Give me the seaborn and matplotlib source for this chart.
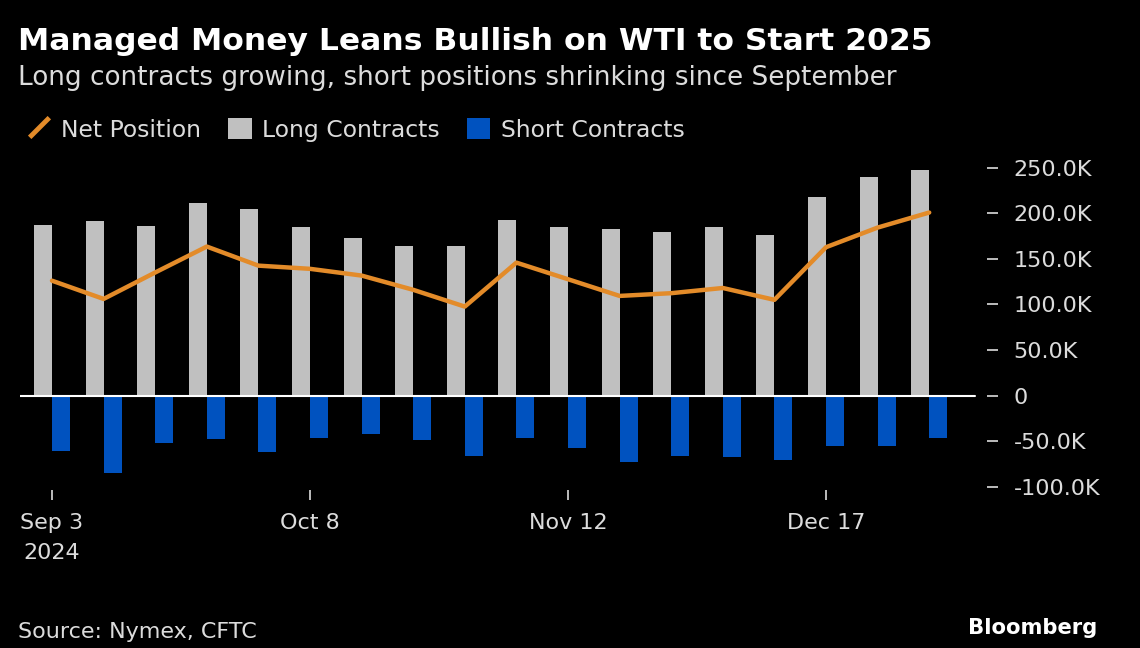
import numpy as np
import pandas as pd
import matplotlib
matplotlib.use("Agg")
import matplotlib.pyplot as plt
import seaborn as sns
from matplotlib.lines import Line2D
from matplotlib.patches import Patch

# weekly CFTC data, managed money WTI positions (thousands of contracts)
weeks = ["2024-09-03", "2024-09-10", "2024-09-17", "2024-09-24", "2024-10-01",
         "2024-10-08", "2024-10-15", "2024-10-22", "2024-10-29", "2024-11-05",
         "2024-11-12", "2024-11-19", "2024-11-26", "2024-12-03", "2024-12-10",
         "2024-12-17", "2024-12-24", "2024-12-31"]
long_k = [186.8, 191.2, 186.4, 211.0, 204.4, 185.0, 172.6, 163.8, 164.5,
          192.3, 185.3, 182.8, 179.2, 185.3, 176.5, 217.9, 239.5, 247.5]
short_k = [-60.3, -84.4, -51.9, -47.5, -61.7, -46.4, -42.0, -48.6, -66.4,
           -46.7, -57.7, -73.0, -65.8, -67.5, -70.8, -55.2, -55.2, -46.7]
net_k = [126.0, 106.0, 135.0, 163.4, 142.5, 139.0, 131.6, 116.0, 97.6,
         145.8, 127.6, 109.3, 112.3, 118.0, 105.0, 162.7, 184.2, 200.7]

tick_idx = [0, 5, 10, 15]
tick_labels = ["Sep 3\n2024", "Oct 8", "Nov 12", "Dec 17"]
y_ticks = [-100, -50, 0, 50, 100, 150, 200, 250]
y_labels = ["-100.0K", "-50.0K", "0", "50.0K", "100.0K", "150.0K", "200.0K", "250.0K"]

GRAY = "#c0c0c0"
BLUE = "#0052bf"
ORANGE = "#e38b29"
TXT = "#dcdcdc"

sns.set_style("dark", {"axes.facecolor": "black", "figure.facecolor": "black"})
plt.rcParams["font.family"] = ["DejaVu Sans"]

x = np.arange(len(weeks))
df = pd.DataFrame({
    "week": np.concatenate([x, x]),
    "series": ["Long Contracts"] * len(x) + ["Short Contracts"] * len(x),
    "value": long_k + short_k,
})

fig = plt.figure(figsize=(11.4, 6.48), dpi=100)
ax = fig.add_axes([20 / 1140, 1 - 489.6 / 648, (987 - 20) / 1140, (489.6 - 163) / 648])
ax.set_facecolor("black")

sns.barplot(data=df, x="week", y="value", hue="series",
            hue_order=["Long Contracts", "Short Contracts"],
            palette=[GRAY, BLUE], width=0.7, dodge=True, saturation=1,
            legend=False, linewidth=0, edgecolor="none", ax=ax)
sns.lineplot(x=x, y=net_k, color=ORANGE, lw=3.2, ax=ax, zorder=4)

ax.set_xlim(-0.62, 18.12)
ax.set_ylim(-103, 255)
ax.axhline(0, xmin=0, xmax=(17.89 + 0.62) / (18.12 + 0.62), color="white", lw=1.5, zorder=3)

for s in ax.spines.values():
    s.set_visible(False)
ax.grid(False)
ax.set_xlabel("")
ax.set_ylabel("")

ax.yaxis.tick_right()
ax.set_yticks(y_ticks)
ax.set_yticklabels(y_labels)
ax.set_xticks(tick_idx)
ax.set_xticklabels(tick_labels)
ax.tick_params(axis="y", colors=TXT, labelsize=16, length=8, width=1.2,
               direction="out", pad=11, right=True, left=False)
ax.tick_params(axis="x", colors=TXT, labelsize=16, length=7, width=1.2,
               direction="out", pad=10, bottom=True)
for lab in ax.get_yticklabels():
    lab.set_color(TXT)
for lab in ax.get_xticklabels():
    lab.set_color(TXT)
    lab.set_linespacing(1.6)

fig.text(18 / 1140, 1 - 42 / 648, "Managed Money Leans Bullish on WTI to Start 2025",
         color="white", fontsize=22.6, fontweight="bold", va="center", ha="left")
fig.text(18 / 1140, 1 - 78 / 648, "Long contracts growing, short positions shrinking since September",
         color=TXT, fontsize=18.9, va="center", ha="left")

handles = [
    Line2D([], [], linestyle="none", marker=(2, 0, -45), markersize=20,
           markeredgewidth=3.5, markeredgecolor=ORANGE),
    Patch(facecolor=GRAY, edgecolor="none"),
    Patch(facecolor=BLUE, edgecolor="none"),
]
fig.legend(handles, ["Net Position", "Long Contracts", "Short Contracts"],
           loc="center left", bbox_to_anchor=(6 / 1140, 1 - 130 / 648),
           ncol=3, frameon=False, fontsize=16.9, labelcolor=TXT,
           handlelength=1.0, handleheight=1.0, handletextpad=0.45, columnspacing=1.15)

fig.text(18 / 1140, 1 - 632 / 648, "Source: Nymex, CFTC", color=TXT, fontsize=16,
         va="center", ha="left")
fig.text(1097 / 1140, 1 - 628 / 648, "Bloomberg", color="white", fontsize=15.2,
         fontweight="bold", va="center", ha="right")

fig.savefig("out.png", dpi=100, facecolor="black")
